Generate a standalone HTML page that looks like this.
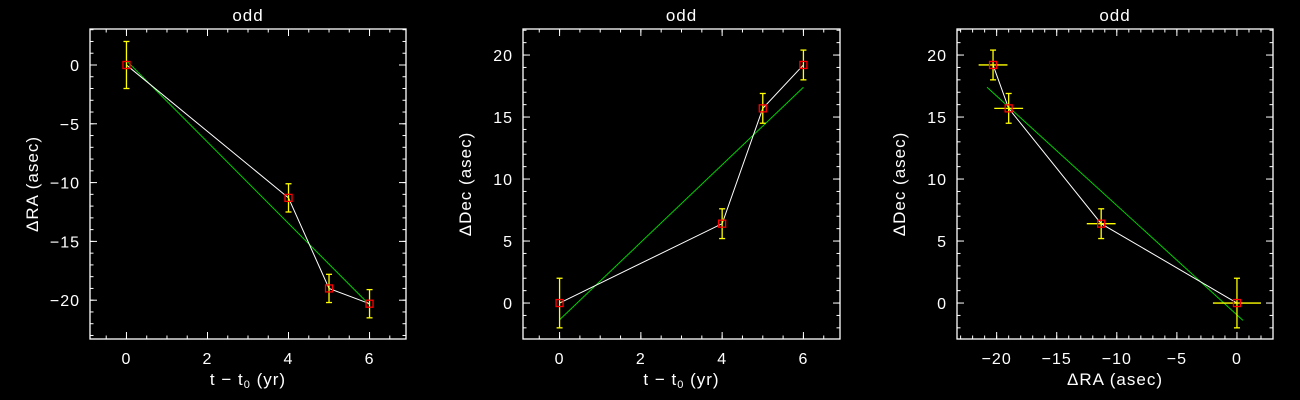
<!DOCTYPE html>
<html><head><meta charset="utf-8">
<style>
html,body{margin:0;padding:0;background:#000;width:1300px;height:400px;overflow:hidden}
svg text{font-family:"Liberation Sans","DejaVu Sans",sans-serif;fill:#fff}
</style></head>
<body>
<svg id="chart" width="1300" height="400" viewBox="0 0 1300 400" xmlns="http://www.w3.org/2000/svg">
<rect width="1300" height="400" fill="#000"/>
</svg>
<script>
// ---- data ----
const times = [0, 4, 5, 6];
const dRA = [0, -11.3, -19.0, -20.3];
const dRAerr = [2.0, 1.2, 1.2, 1.2];
const dDec = [0, 6.4, 15.7, 19.2];
const dDecErr = [2.0, 1.2, 1.2, 1.2];
const fitRA = [0.37, -20.4];      // fit at t=0 and t=6
const fitDec = [-1.35, 17.4];     // fit at t=0 and t=6
const fitRADecX = [-20.8, 0.5];   // fit endpoints in RA
const fitRADecY = [17.4, -1.4];   // fit endpoints in Dec
const fitT = [0, 6];
const xTicksT = [0, 2, 4, 6];
const yTicksRA = [0, -5, -10, -15, -20];
const yTicksDec = [0, 5, 10, 15, 20];
const xTicksRA = [-20, -15, -10, -5, 0];

const svg = document.getElementById('chart');
const NS = 'http://www.w3.org/2000/svg';
function mk(tag, attrs, parent){
  const e = document.createElementNS(NS, tag);
  for (const k in attrs) e.setAttribute(k, attrs[k]);
  (parent||svg).appendChild(e);
  return e;
}
function panel(id, box, xr, yr, xMajor, xMinorStep, yMajor, yMinorStep, xLabel, yLabel){
  const g = mk('g', {});
  
  
  const sx = v => box.x0 + (v - xr[0]) / (xr[1] - xr[0]) * (box.x1 - box.x0);
  const sy = v => box.y1 - (v - yr[0]) / (yr[1] - yr[0]) * (box.y1 - box.y0);
  const fr = mk('rect', {x:box.x0, y:box.y0, width:box.x1-box.x0, height:box.y1-box.y0, fill:'none', stroke:'#fff', 'stroke-width':1.3}, g);
  
  
  for (let v = Math.ceil(xr[0]/xMinorStep)*xMinorStep; v <= xr[1]; v += xMinorStep){
    const X = sx(v);
    mk('line', {x1:X, x2:X, y1:box.y1, y2:box.y1-3.5, stroke:'#fff'}, g);
    mk('line', {x1:X, x2:X, y1:box.y0, y2:box.y0+3.5, stroke:'#fff'}, g);
  }
  for (let v = Math.ceil(yr[0]/yMinorStep)*yMinorStep; v <= yr[1]; v += yMinorStep){
    const Y = sy(v);
    mk('line', {x1:box.x0, x2:box.x0+3.5, y1:Y, y2:Y, stroke:'#fff'}, g);
    mk('line', {x1:box.x1, x2:box.x1-3.5, y1:Y, y2:Y, stroke:'#fff'}, g);
  }
  xMajor.forEach(v => {
    const X = sx(v);
    mk('line', {x1:X, x2:X, y1:box.y1, y2:box.y1-7, stroke:'#fff'}, g);
    mk('line', {x1:X, x2:X, y1:box.y0, y2:box.y0+7, stroke:'#fff'}, g);
    const t = mk('text', {x:X, y:box.y1+25, 'text-anchor':'middle', 'font-size':16, 'letter-spacing':1}, g);
    
    
    t.textContent = v < 0 ? '\u2212' + Math.abs(v) : String(v);
  });
  yMajor.forEach(v => {
    const Y = sy(v);
    mk('line', {x1:box.x0, x2:box.x0+7, y1:Y, y2:Y, stroke:'#fff'}, g);
    mk('line', {x1:box.x1, x2:box.x1-7, y1:Y, y2:Y, stroke:'#fff'}, g);
    const t = mk('text', {x:box.x0-10, y:Y+6, 'text-anchor':'end', 'font-size':16, 'letter-spacing':1}, g);
    
    
    t.textContent = v < 0 ? '\u2212' + Math.abs(v) : String(v);
  });
  const tt = mk('text', {x:(box.x0+box.x1)/2, y:21, 'text-anchor':'middle', 'font-size':17, 'letter-spacing':1}, g);
  
  
  tt.textContent = 'odd';
  const xl = mk('text', {x:(box.x0+box.x1)/2, y:box.y1+46, 'text-anchor':'middle', 'font-size':17, 'letter-spacing':1}, g);
  
  
  xl.innerHTML = xLabel;
  const ycx = box.x0 - 52, ycy = (box.y0+box.y1)/2;
  const yl = mk('text', {x:ycx, y:ycy, 'text-anchor':'middle', 'font-size':17, 'letter-spacing':1, transform:'rotate(-90 '+ycx+' '+ycy+')'}, g);
  
  
  yl.textContent = yLabel;
  return {g, sx, sy};
}
function drawSeries(p, xs, ys, xe, ye, fx, fy){
  const {g, sx, sy} = p;
  const fit = mk('line', {x1:sx(fx[0]), y1:sy(fy[0]), x2:sx(fx[1]), y2:sy(fy[1]), stroke:'#00d000', 'stroke-width':1}, g);
  
  
  const pl = mk('polyline', {points: xs.map((x,i)=>sx(x)+','+sy(ys[i])).join(' '), fill:'none', stroke:'#fff', 'stroke-width':1}, g);
  
  
  xs.forEach((x,i) => {
    const X = sx(x), Y = sy(ys[i]);
    const eg = mk('g', {stroke:'#ffff00', 'stroke-width':1.3}, g);
    
    
    const Yt = sy(ys[i]+ye[i]), Yb = sy(ys[i]-ye[i]);
    mk('line', {x1:X, x2:X, y1:Yt, y2:Yb}, eg);
    mk('line', {x1:X-3, x2:X+3, y1:Yt, y2:Yt}, eg);
    mk('line', {x1:X-3, x2:X+3, y1:Yb, y2:Yb}, eg);
    if (xe){
      mk('line', {x1:sx(x-xe[i]), x2:sx(x+xe[i]), y1:Y, y2:Y}, eg);
    }
    const m = mk('rect', {x:X-3.5, y:Y-3.5, width:7, height:7, fill:'none', stroke:'#ff0000', 'stroke-width':1.3}, g);
    
    
  });
}
const tLabel = 't \u2212 t<tspan font-size="11" dy="3">0</tspan><tspan dy="-3"> (yr)</tspan>';
const p1 = panel('panel-ra-vs-time', {x0:90, x1:406, y0:29, y1:339}, [-0.9, 6.9], [-23.3, 3.06], xTicksT, 0.5, yTicksRA, 1, tLabel, '\u0394RA (asec)');
drawSeries(p1, times, dRA, null, dRAerr, fitT, fitRA);
const p2 = panel('panel-dec-vs-time', {x0:523, x1:840, y0:29, y1:339}, [-0.9, 6.9], [-2.9, 22.1], xTicksT, 0.5, yTicksDec, 1, tLabel, '\u0394Dec (asec)');
drawSeries(p2, times, dDec, null, dDecErr, fitT, fitDec);
const p3 = panel('panel-dec-vs-ra', {x0:77, x1:393, y0:29, y1:339}, [-23.3, 3.0], [-2.9, 22.1], xTicksRA, 1, yTicksDec, 1, '\u0394RA (asec)', '\u0394Dec (asec)');
p3.g.setAttribute('transform', 'translate(880,0)');
drawSeries(p3, dRA, dDec, dRAerr, dDecErr, fitRADecX, fitRADecY);
</script>
</body></html>
